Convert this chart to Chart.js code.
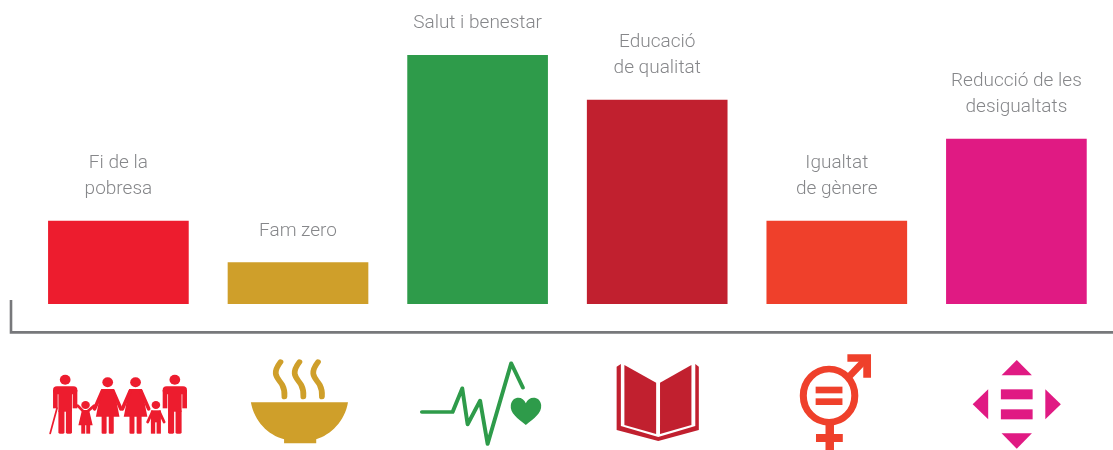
<!DOCTYPE html>
<html>
<head>
<meta charset="utf-8">
<style>html,body{margin:0;padding:0;background:#fff}canvas{display:block}</style>
<script src="https://cdn.jsdelivr.net/npm/chart.js@4"></script>
</head>
<body>
<canvas id="c" width="1113" height="450"></canvas>
<script>
const categories = [["Fi de la","pobresa"],["Fam zero"],["Salut i benestar"],["Educació","de qualitat"],["Igualtat","de gènere"],["Reducció de les","desigualtats"]];
const values = [1, 0.5, 3, 2.46, 1, 1.99];
const colors = ["#ed1c2e","#cf9f2a","#2e9b4a","#c1202f","#ef402b","#e01a83"];
const axisMax = 3.6;

function poly(c, pts){c.beginPath();pts.forEach((p,i)=>i?c.lineTo(p[0],p[1]):c.moveTo(p[0],p[1]));c.closePath();c.fill();}
function line(c, pts, w){c.lineWidth=w;c.lineCap='round';c.lineJoin='round';c.beginPath();pts.forEach((p,i)=>i?c.lineTo(p[0],p[1]):c.moveTo(p[0],p[1]));c.stroke();}
function dot(c,x,y,r){c.beginPath();c.arc(x,y,r,0,Math.PI*2);c.fill();}

function man(c,x){
  dot(c,x,269,15);
  c.beginPath();c.roundRect(x-34,289,68,24,11);c.fill();
  c.fillRect(x-34,300,13,55);c.fillRect(x+21,300,13,55);
  c.fillRect(x-19,295,38,70);
  c.beginPath();c.roundRect(x-19,360,17,71,4);c.fill();
  c.beginPath();c.roundRect(x+2,360,17,71,4);c.fill();
}
function woman(c,x){
  dot(c,x,277,15);
  poly(c,[[x-18,297],[x+18,297],[x+33,380],[x-33,380]]);
  line(c,[[x-15,303],[x-37,357]],10);line(c,[[x+15,303],[x+37,357]],10);
  c.beginPath();c.roundRect(x-17,375,14,56,3);c.fill();
  c.beginPath();c.roundRect(x+3,375,14,56,3);c.fill();
}
const icons = [
 function(c){ // family
  man(c,181);man(c,488);woman(c,300);woman(c,378);
  line(c,[[158,355],[139,430]],5);
  dot(c,238,345,12);
  poly(c,[[228,360],[248,360],[258,406],[218,406]]);
  line(c,[[232,364],[216,347]],8);line(c,[[244,364],[262,347]],8);
  c.fillRect(226,403,11,28);c.fillRect(240,403,11,28);
  dot(c,435,345,12);
  c.fillRect(421,361,28,36);
  line(c,[[425,366],[412,396]],8);line(c,[[445,366],[458,396]],8);
  c.fillRect(421,395,12,36);c.fillRect(437,395,12,36);
 },
 function(c){ // bowl
  c.lineCap='round';c.lineWidth=16;
  [785,838,890].forEach(x=>{
    c.beginPath();c.moveTo(x,216);c.bezierCurveTo(x-28,255,x-5,265,x+5,285);c.bezierCurveTo(x+12,300,x+12,310,x+11,320);c.stroke();
  });
  c.beginPath();c.moveTo(702,337);c.lineTo(974,337);
  c.bezierCurveTo(965,395,925,435,885,448);c.lineTo(885,460);c.lineTo(795,460);c.lineTo(795,448);
  c.bezierCurveTo(750,435,712,395,702,337);c.closePath();c.fill();
 },
 function(c){ // heartbeat and heart
  line(c,[[1182,366],[1268,366],[1295,295],[1310,403],[1345,332],[1366,462],[1432,220],[1465,293]],11);
  c.beginPath();c.moveTo(1473,405);
  c.bezierCurveTo(1450,385,1428,370,1431,345);c.bezierCurveTo(1434,318,1465,315,1473,340);
  c.bezierCurveTo(1481,315,1514,318,1516,345);c.bezierCurveTo(1518,370,1496,385,1473,405);c.closePath();c.fill();
 },
 function(c){ // book
  poly(c,[[182,225],[272,278],[272,432],[182,405]]);
  poly(c,[[283,278],[372,225],[372,405],[283,432]]);
  poly(c,[[160,230],[172,222],[172,408],[278,441],[383,408],[383,222],[393,230],[393,420],[278,453],[160,420]]);
 },
 function(c){ // gender
  c.lineWidth=20;c.beginPath();c.ellipse(763,317,73,80,0,0,Math.PI*2);c.stroke();
  c.lineCap='butt';c.beginPath();c.moveTo(818,262);c.lineTo(868,207);c.stroke();
  poly(c,[[815,193],[882,193],[882,263],[860,263],[860,215],[815,215]]);
  c.fillRect(725,290,76,20);c.fillRect(725,325,76,20);
  c.fillRect(753,400,24,90);c.fillRect(726,432,76,24);
 },
 function(c){ // arrows
  poly(c,[[1293,210],[1336,256],[1250,256]]);
  poly(c,[[1250,430],[1336,430],[1293,476]]);
  poly(c,[[1212,298],[1212,388],[1168,343]]);
  poly(c,[[1374,298],[1374,388],[1418,343]]);
  c.fillRect(1248,298,90,30);c.fillRect(1248,358,90,30);
 }
];
const iconCenters = [330,834,1338,275,785,1292];

const decor = {
  id:'decor',
  afterDraw(chart){
    const c = chart.ctx, meta = chart.getDatasetMeta(0);
    c.save();
    // axis bracket
    c.strokeStyle='#77787b';c.lineWidth=2.6;c.lineCap='butt';c.lineJoin='miter';
    c.beginPath();c.moveTo(11,300);c.lineTo(11,332.4);c.lineTo(1113,332.4);c.stroke();
    // labels
    c.font='300 19px Roboto';c.fillStyle='#86878a';c.textAlign='center';c.textBaseline='alphabetic';
    meta.data.forEach((bar,i)=>{
      const lines = categories[i];
      lines.forEach((t,j)=>{ c.fillText(t, bar.x, bar.y - 27 - (lines.length-1-j)*26); });
    });
    // icons
    meta.data.forEach((bar,i)=>{
      const sx = i<3 ? 2.8 : 2.835;
      c.save();
      c.translate(bar.x, 290);c.scale(1/sx,1/3);c.translate(-iconCenters[i],0);
      c.fillStyle=colors[i];c.strokeStyle=colors[i];
      icons[i](c);
      c.restore();
    });
    c.restore();
  }
};

new Chart(document.getElementById('c'),{
  type:'bar',
  data:{labels:categories.map(l=>l.join(' ')),datasets:[{data:values,backgroundColor:colors,barThickness:140,borderWidth:0}]},
  options:{
    responsive:false,animation:false,
    layout:{padding:{left:28.6,right:6.8,top:5.6,bottom:146}},
    plugins:{legend:{display:false},tooltip:{enabled:false}},
    scales:{x:{display:false},y:{display:false,min:0,max:axisMax}}
  },
  plugins:[decor]
});
</script>
</body>
</html>
